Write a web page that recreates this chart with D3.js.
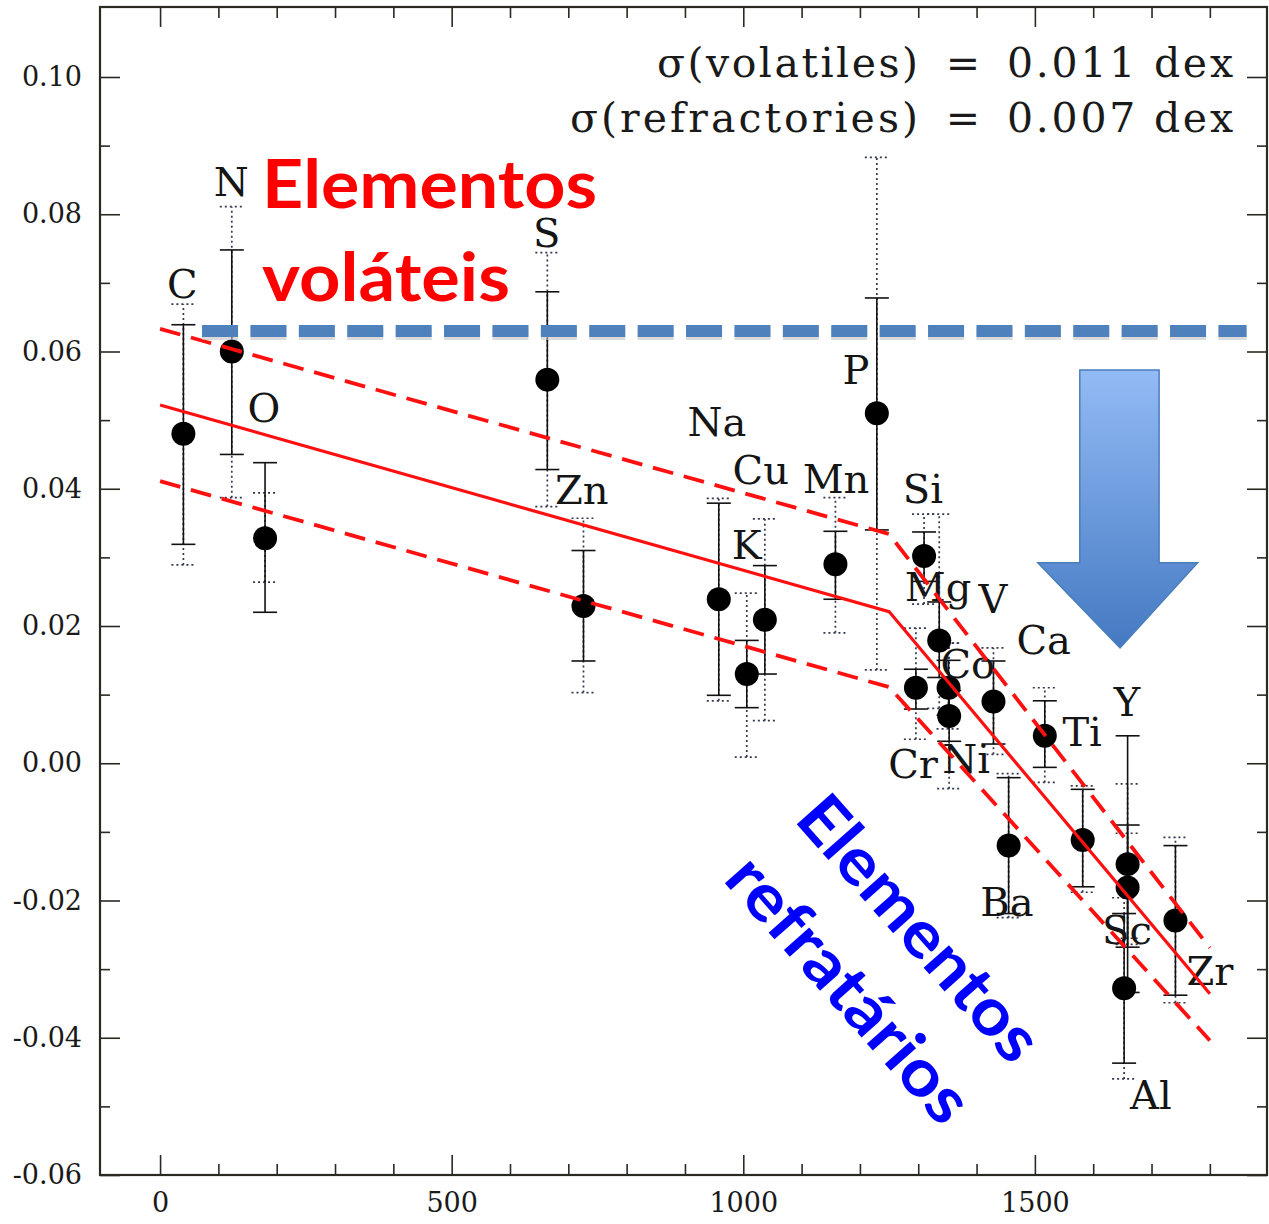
<!DOCTYPE html>
<html lang="en">
<head>
<meta charset="UTF-8">
<title>[X/H] vs condensation temperature</title>
<script src="https://cdn.jsdelivr.net/npm/d3@7"></script>
<style>
  body { margin: 0; background: #fff; }
  svg { display: block; }
</style>
</head>
<body>
<script>
const W = 1269, H = 1224;
const frame = {left: 100, right: 1267, top: 7, bottom: 1175};

// element data: condensation temperature, abundance, error bars (solid and dotted)
const elements = ["C", "N", "O", "S", "Zn", "Na", "K", "Cu", "Mn", "P", "Si", "Mg", "Cr", "Co", "Ni", "V", "Ba", "Ca", "Ti", "Al", "Sc", "Y", "Zr"];
const condTemp = [40, 123, 180, 664, 726, 958, 1006, 1037, 1158, 1229, 1310, 1336, 1296, 1352, 1353, 1429, 1455, 1517, 1582, 1653, 1659, 1659, 1741];
const abundance = [0.0480, 0.0600, 0.0328, 0.0559, 0.0229, 0.0239, 0.0130, 0.0209, 0.0290, 0.0510, 0.0302, 0.0179, 0.0110, 0.0110, 0.0069, 0.0090, -0.0120, 0.0040, -0.0112, -0.0328, -0.0181, -0.0147, -0.0229];
const errLo = [0.0319, 0.0450, 0.0220, 0.0428, 0.0149, 0.0099, 0.0081, 0.0130, 0.0239, 0.0340, 0.0265, 0.0125, 0.0079, 0.0070, 0.0032, 0.0028, -0.0219, -0.0006, -0.0180, -0.0437, -0.0268, -0.0334, -0.0338];
const errHi = [0.0639, 0.0748, 0.0438, 0.0687, 0.0310, 0.0379, 0.0179, 0.0288, 0.0338, 0.0678, 0.0337, 0.0235, 0.0137, 0.0150, 0.0106, 0.0149, -0.0021, 0.0091, -0.0038, -0.0219, -0.0090, 0.0040, -0.0120];
const sysLo = [0.0289, 0.0387, 0.0264, 0.0374, 0.0103, 0.0091, 0.0009, 0.0062, 0.0190, 0.0136, 0.0232, 0.0080, 0.0035, 0.0050, -0.0037, 0.0013, -0.0225, -0.0028, -0.0188, -0.0460, -0.0255, -0.0264, -0.0349];
const sysHi = [0.0669, 0.0811, 0.0394, 0.0744, 0.0357, 0.0386, 0.0248, 0.0356, 0.0387, 0.0883, 0.0363, 0.0363, 0.0197, 0.0175, 0.0175, 0.0168, -0.0015, 0.0110, -0.0033, -0.0196, -0.0102, -0.0030, -0.0108];
// label anchors (data units)
const labelT = [38, 122, 178, 663, 723, 955, 1006, 1030, 1159, 1193, 1308, 1334, 1291, 1385, 1382, 1428, 1452, 1515, 1581, 1699, 1658, 1658, 1800];
const labelV = [0.0678, 0.0827, 0.0497, 0.0753, 0.0378, 0.0477, 0.0297, 0.0407, 0.0394, 0.0553, 0.0379, 0.0236, -0.0021, 0.0124, -0.0014, 0.0219, -0.0222, 0.0159, 0.0025, -0.0504, -0.0263, 0.0069, -0.0323];

// fitted trend (solid) and its band (dashed)
const fitT = [0, 1250, 1800];
const fitMid = [0.0522, 0.0221, -0.0336];
const fitUpper = [0.0633, 0.0334, -0.0269];
const fitLower = [0.0411, 0.0111, -0.0404];

// solar-twin reference level (blue dashed)
const refLevel = 0.063, refT = [72, 1863];

const xMajor = [0, 500, 1000, 1500];
const xMinor = d3.range(100, 1900, 100).filter(d => d % 500 !== 0);
const yMajor = d3.range(-6, 11, 2).map(d => d / 100);
const yMinor = d3.range(-5, 11, 2).map(d => d / 100);

const svg = d3.select("body").append("svg").attr("width", W).attr("height", H);

const x = d3.scaleLinear().domain([-103, 1898]).range([frame.left, frame.right]);
const y = d3.scaleLinear().domain([-0.06, 0.1102]).range([frame.bottom, frame.top]);

const axisColor = "#2a2a22";
const tickFont = "DejaVu Serif";

function styleAxis(g) {
  g.select(".domain").remove();
  g.selectAll(".tick line").attr("stroke", axisColor).attr("stroke-width", 1.6);
  g.selectAll(".tick text").attr("fill", "#1a1a1a").attr("font-family", tickFont).attr("font-size", 27);
}

// bottom / top
svg.append("g").attr("transform", `translate(0,${frame.bottom})`)
  .call(d3.axisBottom(x).tickValues(xMajor).tickSizeInner(-20).tickSizeOuter(0).tickPadding(18).tickFormat(d3.format("d")))
  .call(styleAxis);
svg.append("g").attr("transform", `translate(0,${frame.bottom})`)
  .call(d3.axisBottom(x).tickValues(xMinor).tickSizeInner(-11).tickSizeOuter(0).tickFormat(""))
  .call(styleAxis);
svg.append("g").attr("transform", `translate(0,${frame.top})`)
  .call(d3.axisTop(x).tickValues(xMajor).tickSizeInner(-20).tickSizeOuter(0).tickFormat(""))
  .call(styleAxis);
svg.append("g").attr("transform", `translate(0,${frame.top})`)
  .call(d3.axisTop(x).tickValues(xMinor).tickSizeInner(-11).tickSizeOuter(0).tickFormat(""))
  .call(styleAxis);

// left / right
svg.append("g").attr("transform", `translate(${frame.left},0)`)
  .call(d3.axisLeft(y).tickValues(yMajor).tickSizeInner(-20).tickSizeOuter(0).tickPadding(18).tickFormat(d => d.toFixed(2)))
  .call(styleAxis);
svg.append("g").attr("transform", `translate(${frame.left},0)`)
  .call(d3.axisLeft(y).tickValues(yMinor).tickSizeInner(-10).tickSizeOuter(0).tickFormat(""))
  .call(styleAxis);
svg.append("g").attr("transform", `translate(${frame.right},0)`)
  .call(d3.axisRight(y).tickValues(yMajor).tickSizeInner(-20).tickSizeOuter(0).tickFormat(""))
  .call(styleAxis);
svg.append("g").attr("transform", `translate(${frame.right},0)`)
  .call(d3.axisRight(y).tickValues(yMinor).tickSizeInner(-10).tickSizeOuter(0).tickFormat(""))
  .call(styleAxis);

svg.append("rect")
  .attr("x", frame.left).attr("y", frame.top)
  .attr("width", frame.right - frame.left).attr("height", frame.bottom - frame.top)
  .attr("fill", "none").attr("stroke", axisColor).attr("stroke-width", 2.2);

// error bars
const rows = elements.map((name, i) => ({
  name, t: condTemp[i], v: abundance[i],
  lo: errLo[i], hi: errHi[i], slo: sysLo[i], shi: sysHi[i],
  lt: labelT[i], lv: labelV[i]
}));

const capW = 12;
const bars = svg.append("g");
const dotted = bars.selectAll("g.sys").data(rows).join("g").attr("class", "sys")
  .attr("stroke", "#34384f").attr("stroke-width", 1.7).attr("stroke-dasharray", "2,3");
dotted.append("line").attr("x1", d => x(d.t)).attr("x2", d => x(d.t)).attr("y1", d => y(d.slo)).attr("y2", d => y(d.shi));
dotted.append("line").attr("x1", d => x(d.t) - capW).attr("x2", d => x(d.t) + capW).attr("y1", d => y(d.slo)).attr("y2", d => y(d.slo));
dotted.append("line").attr("x1", d => x(d.t) - capW).attr("x2", d => x(d.t) + capW).attr("y1", d => y(d.shi)).attr("y2", d => y(d.shi));

const solid = bars.selectAll("g.err").data(rows).join("g").attr("class", "err")
  .attr("stroke", "#111").attr("stroke-width", 1.6);
solid.append("line").attr("x1", d => x(d.t)).attr("x2", d => x(d.t)).attr("y1", d => y(d.lo)).attr("y2", d => y(d.hi));
solid.append("line").attr("x1", d => x(d.t) - capW).attr("x2", d => x(d.t) + capW).attr("y1", d => y(d.lo)).attr("y2", d => y(d.lo));
solid.append("line").attr("x1", d => x(d.t) - capW).attr("x2", d => x(d.t) + capW).attr("y1", d => y(d.hi)).attr("y2", d => y(d.hi));

svg.append("g").selectAll("circle").data(rows).join("circle")
  .attr("cx", d => x(d.t)).attr("cy", d => y(d.v)).attr("r", 12).attr("fill", "#000");

svg.append("g").selectAll("text").data(rows).join("text")
  .attr("x", d => x(d.lt)).attr("y", d => y(d.lv))
  .attr("text-anchor", "middle")
  .attr("font-family", "DejaVu Serif").attr("font-size", 40).attr("fill", "#151515")
  .text(d => d.name);

// trend lines
const fitLine = d3.line().x(d => x(d[0])).y(d => y(d[1]));
svg.append("path").datum(d3.zip(fitT, fitMid)).attr("d", fitLine)
  .attr("fill", "none").attr("stroke", "#ff1010").attr("stroke-width", 3.2);
[fitUpper, fitLower].forEach(vals => {
  svg.append("path").datum(d3.zip(fitT, vals)).attr("d", fitLine)
    .attr("fill", "none").attr("stroke", "#ff1010").attr("stroke-width", 3.8)
    .attr("stroke-dasharray", "21,11");
});

// sigma annotation
const sig = svg.append("g").attr("font-family", "DejaVu Serif").attr("font-size", 41).attr("fill", "#1a1a1a");
[["σ(volatiles)", 657, 261, "0.011 dex", 77], ["σ(refractories)", 570, 348, "0.007 dex", 132]].forEach(([lab, x0, len, val, yb]) => {
  sig.append("text").attr("x", x0).attr("y", yb).attr("textLength", len).attr("lengthAdjust", "spacing").text(lab);
  sig.append("text").attr("x", 963).attr("y", yb).attr("text-anchor", "middle").text("=");
  sig.append("text").attr("x", 1007).attr("y", yb).attr("textLength", 226).attr("lengthAdjust", "spacing").text(val);
});

// blue dashed reference level with soft shadow
svg.append("line")
  .attr("x1", x(refT[0])).attr("x2", x(refT[1])).attr("y1", y(refLevel) + 3).attr("y2", y(refLevel) + 3)
  .attr("stroke", "#c4c4c4").attr("stroke-width", 12).attr("stroke-dasharray", "36,12.4").attr("opacity", 0.6);
svg.append("line")
  .attr("x1", x(refT[0])).attr("x2", x(refT[1])).attr("y1", y(refLevel)).attr("y2", y(refLevel))
  .attr("stroke", "#4f81bd").attr("stroke-width", 12).attr("stroke-dasharray", "36,12.4");

// big arrow
const defs = svg.append("defs");
const grad = defs.append("linearGradient").attr("id", "arrowGrad").attr("x1", 0).attr("y1", 0).attr("x2", 0).attr("y2", 1);
grad.append("stop").attr("offset", "0%").attr("stop-color", "#93bbf5");
grad.append("stop").attr("offset", "100%").attr("stop-color", "#4479c2");
const arrow = {shaftL: 1577, shaftR: 1713, headL: 1505, headR: 1779, top: 0.0573, neck: 0.0292, tip: 0.0168, tipT: 1646};
const arrowPts = [
  [arrow.shaftL, arrow.top], [arrow.shaftR, arrow.top], [arrow.shaftR, arrow.neck], [arrow.headR, arrow.neck],
  [arrow.tipT, arrow.tip], [arrow.headL, arrow.neck], [arrow.shaftL, arrow.neck]
];
svg.append("path")
  .attr("d", d3.line().x(d => x(d[0])).y(d => y(d[1]))(arrowPts) + "Z")
  .attr("fill", "url(#arrowGrad)").attr("stroke", "#4a7ebb").attr("stroke-width", 1.5);

// slide annotations
const red = svg.append("g").attr("font-family", "Lato").attr("font-weight", 700).attr("font-size", 66).attr("fill", "#ff0000");
red.append("text").attr("x", 262).attr("y", 208).attr("textLength", 335).attr("lengthAdjust", "spacingAndGlyphs").text("Elementos");
red.append("text").attr("x", 262).attr("y", 301).attr("textLength", 248).attr("lengthAdjust", "spacingAndGlyphs").text("voláteis");

const blue = svg.append("g").attr("font-family", "Lato").attr("font-weight", 700).attr("font-size", 66).attr("fill", "#0000ff");
blue.append("text").attr("transform", "translate(793,820) rotate(48.5)").attr("textLength", 330).attr("lengthAdjust", "spacingAndGlyphs").text("Elementos");
blue.append("text").attr("transform", "translate(722,880) rotate(48.5)").attr("textLength", 332).attr("lengthAdjust", "spacingAndGlyphs").text("refratários");
</script>
</body>
</html>
